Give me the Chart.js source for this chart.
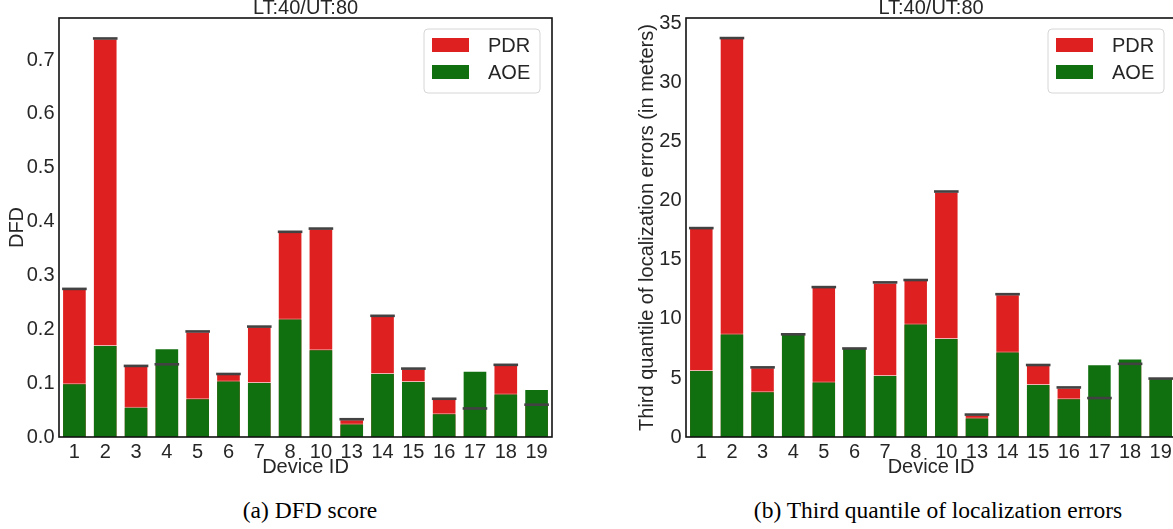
<!DOCTYPE html>
<html>
<head>
<meta charset="utf-8">
<script src="https://cdn.jsdelivr.net/npm/chart.js@4/dist/chart.umd.min.js"></script>
<style>
body { margin: 0; width: 1173px; height: 529px; overflow: hidden; background: #fff; position: relative; }
.panel { position: absolute; top: -6px; }
.caption { position: absolute; top: 497px; font-family: "Liberation Serif", "Times New Roman", serif; font-size: 23.5px; color: #000; white-space: nowrap; transform: translateX(-50%); }
</style>
</head>
<body>
<canvas id="dfdChart" class="panel" width="600" height="490" style="left:0px"></canvas>
<canvas id="q3Chart" class="panel" width="600" height="490" style="left:600px"></canvas>
<div class="caption" style="left:310px">(a) DFD score</div>
<div class="caption" style="left:938px">(b) Third quantile of localization errors</div>

<script>
const deviceIds = ['1', '2', '3', '4', '5', '6', '7', '8', '10', '13', '14', '15', '16', '17', '18', '19'];

// DFD score per device
const dfdPdr = [0.275, 0.740, 0.132, 0.135, 0.196, 0.117, 0.205, 0.381, 0.387, 0.033, 0.225, 0.127, 0.071, 0.053, 0.134, 0.060];
const dfdAoe = [0.100, 0.171, 0.056, 0.165, 0.072, 0.105, 0.102, 0.220, 0.163, 0.025, 0.119, 0.104, 0.044, 0.123, 0.081, 0.089];

// third quantile of localization errors (meters)
const q3Pdr = [17.7, 33.8, 5.9, 8.7, 12.7, 7.5, 13.1, 13.3, 20.8, 1.9, 12.1, 6.1, 4.2, 3.3, 6.2, 4.95];
const q3Aoe = [5.67, 8.76, 3.87, 8.8, 4.7, 7.55, 5.25, 9.62, 8.38, 1.66, 7.24, 4.5, 3.29, 6.17, 6.66, 4.98];

const plotTitle = 'LT:40/UT:80';
const textColor = '#262626';
const sans = '"Liberation Sans", Arial, sans-serif';
const fontSize = 20;

// frame round the plot area
const frameBox = {
    id: 'frameBox',
    afterDatasetsDraw(chart) {
        const a = chart.chartArea;
        const ctx = chart.ctx;
        ctx.save();
        ctx.strokeStyle = '#111';
        ctx.lineWidth = 1.6;
        ctx.strokeRect(a.left, a.top, a.right - a.left, a.bottom - a.top);
        ctx.restore();
    }
};

// legend box inside the plot, upper right
const boxLegend = {
    id: 'boxLegend',
    afterDraw(chart) {
        const ctx = chart.ctx;
        const a = chart.chartArea;
        const items = chart.data.datasets.filter(d => d.type !== 'line');
        const w = 116, h = 64;
        const x = a.right - 12 - w;
        const y = a.top + 11;
        ctx.save();
        ctx.beginPath();
        ctx.roundRect(x, y, w, h, 4);
        ctx.fillStyle = 'rgba(255,255,255,0.9)';
        ctx.fill();
        ctx.strokeStyle = '#d6d6d6';
        ctx.lineWidth = 1;
        ctx.stroke();
        ctx.font = '20px ' + sans;
        ctx.textBaseline = 'middle';
        items.forEach((d, i) => {
            ctx.fillStyle = d.backgroundColor;
            ctx.fillRect(x + 8, y + 9 + i * 27, 37, 14);
            ctx.fillStyle = textColor;
            ctx.fillText(d.label, x + 64, y + 17 + i * 27);
        });
        ctx.restore();
    }
};

function makeChart(canvasId, pdr, aoe, yOpts) {
    const ctx = document.getElementById(canvasId).getContext('2d');
    const canvasHeight = ctx.canvas.height;
    return new Chart(ctx, {
        type: 'bar',
        data: {
            labels: deviceIds,
            datasets: [
                {
                    label: 'PDR',
                    data: pdr,
                    backgroundColor: '#df2020',
                    borderColor: 'rgba(255,255,255,0.65)',
                    borderWidth: 1,
                    grouped: false,
                    order: 3
                },
                {
                    label: 'AOE',
                    data: aoe,
                    backgroundColor: '#107010',
                    borderColor: 'rgba(255,255,255,0.65)',
                    borderWidth: 1,
                    grouped: false,
                    order: 2
                },
                {
                    type: 'line',
                    label: 'PDR err',
                    data: pdr,
                    showLine: false,
                    pointStyle: 'line',
                    pointRadius: 12.3,
                    pointHoverRadius: 12.3,
                    pointBorderWidth: 2.6,
                    pointBorderColor: '#424242',
                    order: 1
                }
            ]
        },
        options: {
            responsive: false,
            animation: false,
            events: [],
            layout: { padding: { left: 0, right: yOpts.rightPad, top: 0, bottom: 0 } },
            datasets: {
                bar: { categoryPercentage: 1.0, barPercentage: 0.8 }
            },
            plugins: {
                legend: { display: false },
                tooltip: { enabled: false },
                title: {
                    display: true,
                    fullSize: false,
                    text: plotTitle,
                    color: textColor,
                    font: { family: sans, size: fontSize, weight: 'normal' },
                    padding: { top: 2, bottom: -2 }
                }
            },
            scales: {
                x: {
                    grid: { display: false, drawTicks: false },
                    border: { display: false },
                    // plot bottom sits at canvas y 443
                    afterFit: function(scale) { scale.height = canvasHeight - 443; },
                    ticks: {
                        color: textColor,
                        font: { family: sans, size: fontSize },
                        padding: 3,
                        maxRotation: 0,
                        autoSkip: false
                    },
                    title: {
                        display: true,
                        text: 'Device ID',
                        color: textColor,
                        font: { family: sans, size: fontSize },
                        padding: { top: 0, bottom: 4.7 }
                    }
                },
                y: {
                    min: 0,
                    max: yOpts.max,
                    grid: { display: false, drawTicks: false },
                    border: { display: false },
                    afterFit: function(scale) { scale.width = yOpts.axisWidth; },
                    ticks: {
                        stepSize: yOpts.step,
                        includeBounds: false,
                        color: textColor,
                        font: { family: sans, size: fontSize },
                        padding: 4.5,
                        callback: yOpts.format
                    },
                    title: {
                        display: true,
                        text: yOpts.title,
                        color: textColor,
                        font: { family: sans, size: fontSize },
                        padding: { top: yOpts.titlePad, bottom: 0 }
                    }
                }
            }
        },
        plugins: [frameBox, boxLegend]
    });
}

makeChart('dfdChart', dfdPdr, dfdAoe, {
    max: 0.778, step: 0.1, axisWidth: 59, rightPad: 48, titlePad: 5.7,
    title: 'DFD',
    format: v => v.toFixed(1)
});

makeChart('q3Chart', q3Pdr, q3Aoe, {
    max: 35.5, step: 5, axisWidth: 86, rightPad: 24, titlePad: 35.7,
    title: 'Third quantile of localization errors (in meters)',
    format: v => String(Math.round(v))
});
</script>
</body>
</html>
